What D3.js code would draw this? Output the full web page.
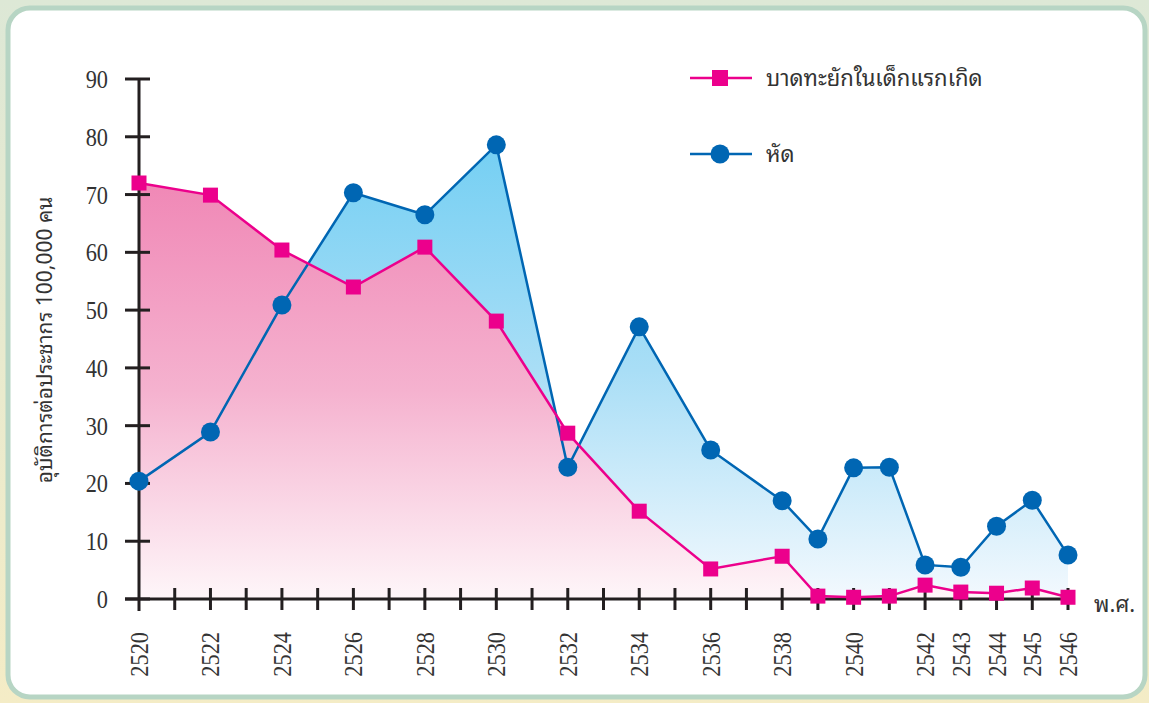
<!DOCTYPE html>
<html>
<head>
<meta charset="utf-8">
<script src="https://cdn.jsdelivr.net/npm/d3@7"></script>
<style>
  body { margin: 0; background: #fff; }
  svg { display: block; }
</style>
</head>
<body>
<div id="chart"></div>
<script>
// data
const years = [2520, 2522, 2524, 2526, 2528, 2530, 2532, 2534, 2536, 2538, 2539, 2540, 2541, 2542, 2543, 2544, 2545, 2546];
const tetanus = [72.0, 69.9, 60.4, 54.0, 60.9, 48.1, 28.7, 15.2, 5.2, 7.4, 0.5, 0.3, 0.5, 2.4, 1.2, 1.0, 1.9, 0.3];
const measles = [20.4, 28.9, 50.9, 70.3, 66.5, 78.6, 22.8, 47.1, 25.8, 17.0, 10.4, 22.7, 22.8, 5.9, 5.5, 12.6, 17.1, 7.6];
const yTicks = [0, 10, 20, 30, 40, 50, 60, 70, 80, 90];
const xLabels = [2520, 2522, 2524, 2526, 2528, 2530, 2532, 2534, 2536, 2538, 2540, 2542, 2543, 2544, 2545, 2546];
const seriesNames = ['บาดทะยักในเด็กแรกเกิด', 'หัด'];

const W = 1149, H = 703;
const pink = '#ec008c', blue = '#0066b3', ink = '#231f20';
const serif = '"Liberation Serif", "DejaVu Serif", serif';
const thai = '"Noto Sans Thai Looped", "Norasi", "Garuda", "Loma", "Noto Serif Thai", "Noto Sans Thai", "Noto Sans", sans-serif';

const svg = d3.select('#chart').append('svg')
  .attr('width', W)
  .attr('height', H);

const defs = svg.append('defs');

const bg = defs.append('linearGradient').attr('id', 'bg')
  .attr('x1', 0).attr('y1', 0).attr('x2', 0).attr('y2', 1);
bg.append('stop').attr('offset', 0).attr('stop-color', '#dde8d6');
bg.append('stop').attr('offset', 1).attr('stop-color', '#f4ecc6');

const x = d3.scaleLinear().domain([2520, 2546]).range([139, 1068]);
const y = d3.scaleLinear().domain([0, 90]).range([599, 79]);

const pinkGrad = defs.append('linearGradient').attr('id', 'pinkGrad')
  .attr('gradientUnits', 'userSpaceOnUse')
  .attr('x1', 0).attr('y1', y(72)).attr('x2', 0).attr('y2', y(0));
pinkGrad.append('stop').attr('offset', 0).attr('stop-color', '#f088b6');
pinkGrad.append('stop').attr('offset', 0.5).attr('stop-color', '#f5b2cf');
pinkGrad.append('stop').attr('offset', 1).attr('stop-color', '#fef6f9');

const blueGrad = defs.append('linearGradient').attr('id', 'blueGrad')
  .attr('gradientUnits', 'userSpaceOnUse')
  .attr('x1', 0).attr('y1', y(79)).attr('x2', 0).attr('y2', y(0));
blueGrad.append('stop').attr('offset', 0).attr('stop-color', '#74cff3');
blueGrad.append('stop').attr('offset', 0.5).attr('stop-color', '#a9def6');
blueGrad.append('stop').attr('offset', 1).attr('stop-color', '#f3f9fe');

// frame
svg.append('rect').attr('width', W).attr('height', H).attr('fill', 'url(#bg)');
svg.append('rect')
  .attr('x', 8).attr('y', 8)
  .attr('width', 1137).attr('height', 689)
  .attr('rx', 22)
  .attr('fill', '#fff')
  .attr('stroke', '#b7d5c4')
  .attr('stroke-width', 5);

const tetanusData = years.map((yr, i) => ({ yr, v: tetanus[i] }));
const measlesData = years.map((yr, i) => ({ yr, v: measles[i] }));

const area = d3.area()
  .x(d => x(d.yr))
  .y0(y(0))
  .y1(d => y(d.v));

const line = d3.line()
  .x(d => x(d.yr))
  .y(d => y(d.v));

svg.append('path').attr('d', area(measlesData)).attr('fill', 'url(#blueGrad)');
svg.append('path').attr('d', area(tetanusData)).attr('fill', 'url(#pinkGrad)');

// axes
const yAxis = svg.append('g');
yAxis.append('line')
  .attr('x1', x(2520)).attr('x2', x(2520))
  .attr('y1', y(90)).attr('y2', y(0) + 12)
  .attr('stroke', ink).attr('stroke-width', 3);
yAxis.selectAll('.ytick').data(yTicks).enter()
  .append('line')
  .attr('x1', x(2520) - 14).attr('x2', x(2520) + 11)
  .attr('y1', d => y(d)).attr('y2', d => y(d))
  .attr('stroke', ink).attr('stroke-width', 3);
yAxis.selectAll('.ylab').data(yTicks).enter()
  .append('text')
  .attr('transform', d => `translate(108, ${y(d) + 9}) scale(0.86, 1)`)
  .attr('text-anchor', 'end')
  .attr('font-family', serif)
  .attr('font-size', 26)
  .attr('fill', '#333')
  .text(d => d);

const xAxis = svg.append('g');
xAxis.append('line')
  .attr('x1', x(2520) - 14).attr('x2', x(2546) + 7)
  .attr('y1', y(0)).attr('y2', y(0))
  .attr('stroke', ink).attr('stroke-width', 3);
xAxis.selectAll('.xtick').data(d3.range(2521, 2547)).enter()
  .append('line')
  .attr('x1', d => x(d)).attr('x2', d => x(d))
  .attr('y1', y(0) - 11).attr('y2', y(0) + 11)
  .attr('stroke', ink).attr('stroke-width', 3);
xAxis.selectAll('.xlab').data(xLabels).enter()
  .append('text')
  .attr('transform', d => `translate(${x(d) + 9}, 632) rotate(-90) scale(0.86, 1)`)
  .attr('text-anchor', 'end')
  .attr('font-family', serif)
  .attr('font-size', 26)
  .attr('fill', '#333')
  .text(d => d);

svg.append('text')
  .attr('x', 1094).attr('y', 612)
  .attr('font-family', thai)
  .attr('font-size', 22)
  .attr('fill', '#333')
  .text('พ.ศ.');

svg.append('text')
  .attr('transform', `translate(52, 340) rotate(-90)`)
  .attr('text-anchor', 'middle')
  .attr('font-family', thai)
  .attr('font-size', 21)
  .attr('fill', '#333')
  .text('อุบัติการต่อประชากร 100,000 คน');

// lines and markers
svg.append('path').attr('d', line(measlesData))
  .attr('fill', 'none').attr('stroke', blue).attr('stroke-width', 2.5);
svg.append('path').attr('d', line(tetanusData))
  .attr('fill', 'none').attr('stroke', pink).attr('stroke-width', 2.5);

svg.selectAll('.dot').data(measlesData).enter()
  .append('circle')
  .attr('cx', d => x(d.yr)).attr('cy', d => y(d.v))
  .attr('r', 9.5)
  .attr('fill', blue);

svg.selectAll('.sq').data(tetanusData).enter()
  .append('rect')
  .attr('x', d => x(d.yr) - 7.5).attr('y', d => y(d.v) - 7.5)
  .attr('width', 15).attr('height', 15)
  .attr('fill', pink);

// legend
const legend = svg.append('g');
const legendRows = [
  { name: seriesNames[0], color: pink, shape: 'square', ly: 78 },
  { name: seriesNames[1], color: blue, shape: 'circle', ly: 154 }
];
legendRows.forEach(r => {
  legend.append('line')
    .attr('x1', 690).attr('x2', 752)
    .attr('y1', r.ly).attr('y2', r.ly)
    .attr('stroke', r.color).attr('stroke-width', 2.5);
  if (r.shape === 'square') {
    legend.append('rect')
      .attr('x', 712).attr('y', r.ly - 8)
      .attr('width', 16).attr('height', 16)
      .attr('fill', r.color);
  } else {
    legend.append('circle')
      .attr('cx', 720).attr('cy', r.ly)
      .attr('r', 9.5)
      .attr('fill', r.color);
  }
  legend.append('text')
    .attr('x', 766).attr('y', r.ly + 8)
    .attr('font-family', thai)
    .attr('font-size', 22)
    .attr('fill', '#333')
    .text(r.name);
});
</script>
</body>
</html>
